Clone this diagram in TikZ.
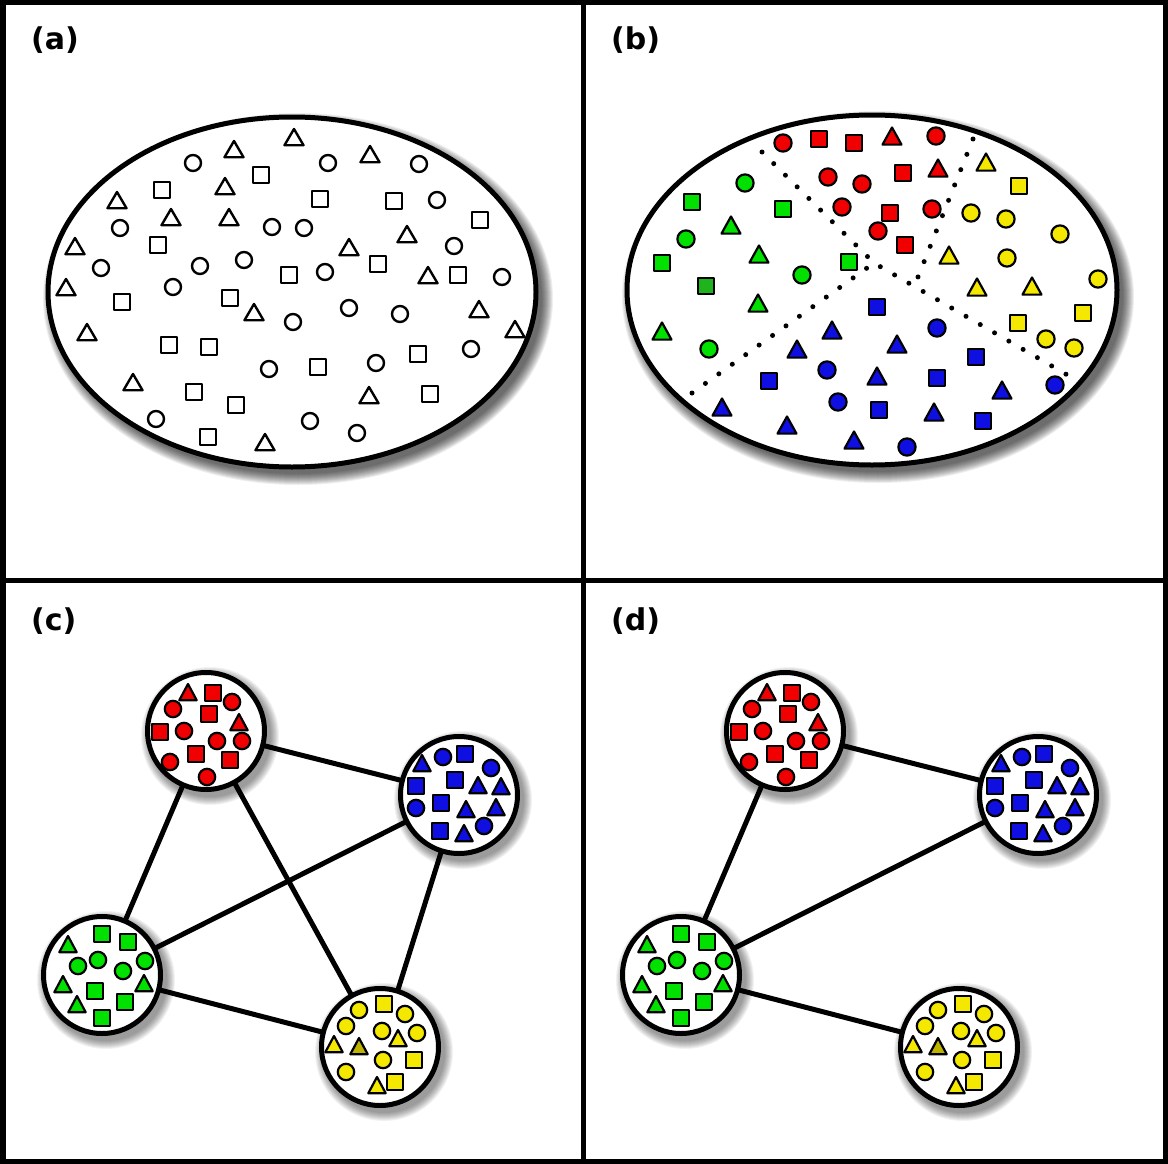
\documentclass[tikz,border=0pt]{standalone}
\usepackage{fontspec}
\newfontfamily\labfont{DejaVu Sans}
\definecolor{cR}{RGB}{240,0,0}
\definecolor{cB}{RGB}{15,15,225}
\definecolor{cG}{RGB}{0,225,0}
\definecolor{cY}{RGB}{245,232,0}
\definecolor{cYd}{RGB}{190,180,0}
\definecolor{cGd}{RGB}{30,180,30}
\pgfdeclarelayer{bgl}
\pgfdeclarelayer{shadowl}
\pgfdeclarelayer{edgel}
\pgfsetlayers{bgl,shadowl,edgel,main}
\def\shLW{2}\def\shHS{8}\def\shHR{8.5}\def\shTB{9.5}\def\shTH{9.5}
\newcommand\shSq[3]{\draw[shp,fill=#3] ({#1-\shHS},{#2-\shHS}) rectangle ({#1+\shHS},{#2+\shHS});}
\newcommand\shCi[3]{\draw[shp,fill=#3] (#1,#2) circle[radius=\shHR pt];}
\newcommand\shTr[3]{\draw[shp,fill=#3] (#1,{#2-\shTH}) -- ({#1+\shTB},{#2+0.8*\shTH}) -- ({#1-\shTB},{#2+0.8*\shTH}) -- cycle;}
\newcommand\ellshadow[4]{%
  \foreach \k in {0,...,11}{%
    \pgfmathsetmacro\rrx{#3+11-\k}\pgfmathsetmacro\rry{#4+11-\k}%
    \fill[black,opacity=0.065] ({#1+6},{#2+7}) ellipse[x radius=\rrx pt,y radius=\rry pt];}}
\newcommand\cirshadow[2]{%
  \foreach \k in {0,...,8}{%
    \pgfmathsetmacro\rrx{61+8-\k}%
    \fill[black,opacity=0.05] ({#1+4},{#2+5}) circle[radius=\rrx pt];}}
\newcommand\redset{%
  \foreach \x/\y in {188/693,239/723}{\shTr{\x}{\y}{cR}}
  \foreach \x/\y in {213/693,209/714,160/732,196/754,230/760}{\shSq{\x}{\y}{cR}}
  \foreach \x/\y in {173/709,232/702,184/731,217/741,242/741,170/762,207/777}{\shCi{\x}{\y}{cR}}}
\newcommand\blueset{%
  \foreach \x/\y in {422/764,478/786,501/787,466/810,496/808,464/834}{\shTr{\x}{\y}{cB}}
  \foreach \x/\y in {465/754,416/786,455/780,441/803,440/831}{\shSq{\x}{\y}{cB}}
  \foreach \x/\y in {443/757,491/768,416/808,484/826}{\shCi{\x}{\y}{cB}}}
\newcommand\greenset{%
  \foreach \x/\y in {68/945,63/985,144/984,77/1005}{\shTr{\x}{\y}{cG}}
  \foreach \x/\y in {102/934,128/942,95/991,125/1002,102/1018}{\shSq{\x}{\y}{cG}}
  \foreach \x/\y in {78/966,98/960,123/971,145/961}{\shCi{\x}{\y}{cG}}}
\newcommand\yellowset{%
  \foreach \x/\y in {334/1045,398/1039,377/1086}{\shTr{\x}{\y}{cY}}
  \shTr{359}{1047}{cYd}
  \foreach \x/\y in {384/1004,414/1060,395/1082}{\shSq{\x}{\y}{cY}}
  \foreach \x/\y in {359/1010,405/1014,346/1026,382/1031,417/1033,383/1060,346/1072}{\shCi{\x}{\y}{cY}}}
\begin{document}
\begin{tikzpicture}[x=1pt,y=-1pt,
  shp/.style={draw=black,line width=\shLW pt,line join=round},
  cluster/.style={circle,draw=black,line width=5pt,fill=white,minimum size=117pt,inner sep=0pt},
  link/.style={line width=5pt,draw=black},
  dotline/.style={line width=5pt,line cap=round,dash pattern=on 0pt off 16.5pt,draw=black},
  lab/.style={font=\labfont\bfseries\fontsize{30}{36}\selectfont,anchor=base west,inner sep=0pt}]
\useasboundingbox (0,0) rectangle (1168,1164);
\begin{pgfonlayer}{bgl}
\fill[white] (0,0) rectangle (1168,1164);
\end{pgfonlayer}
% frame
\draw[line width=5.5pt] (2.75,2.75) rectangle (1165.25,1161.25);
\draw[line width=5pt] (583,0) -- (583,1164);
\draw[line width=5pt] (0,580) -- (1168,580);
% labels
\node[lab] (la) at (31,50) {(a)};
\node[lab] (lb) at (611,50) {(b)};
\node[lab] (lc) at (31,630) {(c)};
\node[lab] (ld) at (611,630) {(d)};
% ---------- panel (a)
\ellshadow{292}{292}{244}{175}
\draw[line width=5pt,fill=white] (292,292) ellipse[x radius=244pt,y radius=175pt];
\def\shLW{2.4}\def\shHS{7.8}\def\shHR{8}\def\shTB{9.5}\def\shTH{9}
\foreach \x/\y in {294/138,234/150,370/155,225/187,117/201,171/218,229/218,407/235,349/248,75/247,428/276,66/288,254/313,479/310,87/333,515/330,133/383,369/396,265/443}{\shTr{\x}{\y}{white}}
\foreach \x/\y in {193/163,328/163,419/164,437/200,120/228,272/227,304/228,454/246,101/268,200/266,244/260,325/272,502/277,173/287,293/322,349/308,400/314,471/349,269/369,376/363,156/419,310/421,357/433}{\shCi{\x}{\y}{white}}
\foreach \x/\y in {162/190,261/175,320/199,394/201,480/220,158/245,378/264,289/275,458/275,122/302,230/298,169/345,209/347,318/367,418/354,194/392,236/405,430/394,208/437}{\shSq{\x}{\y}{white}}
% ---------- panel (b)
\ellshadow{872}{290}{245}{175}
\draw[line width=5pt,fill=white] (872,290) ellipse[x radius=245pt,y radius=175pt];
\draw[dotline] (762,152) -- (874,263) -- (1076,380);
\draw[dotline] (692,393) -- (874,263);
\draw[dotline] (973,139) -- (914,287);
\def\shLW{2.2}\def\shHS{8.3}\def\shHR{8.6}\def\shTB{9.5}\def\shTH{9.5}
% red
\foreach \x/\y in {892/137,938/169}{\shTr{\x}{\y}{cR}}
\foreach \x/\y in {819/139,854/143,903/173,890/213,905/245}{\shSq{\x}{\y}{cR}}
\foreach \x/\y in {783/143,936/136,828/177,862/184,842/207,932/209,878/231}{\shCi{\x}{\y}{cR}}
% green
\foreach \x/\y in {731/226,759/255,758/304,662/332}{\shTr{\x}{\y}{cG}}
\foreach \x/\y in {692/202,783/209,662/263,849/262}{\shSq{\x}{\y}{cG}}
\shSq{706}{286}{cGd}
\foreach \x/\y in {745/183,686/239,802/275,709/349}{\shCi{\x}{\y}{cG}}
% yellow
\foreach \x/\y in {986/163,949/256,977/288,1032/287}{\shTr{\x}{\y}{cY}}
\foreach \x/\y in {1019/186,1083/313,1018/323}{\shSq{\x}{\y}{cY}}
\foreach \x/\y in {971/213,1006/219,1060/234,1007/258,1098/279,1046/339,1074/348}{\shCi{\x}{\y}{cY}}
% blue
\foreach \x/\y in {832/331,797/350,877/377,722/408,787/426,854/441,897/345,1002/391,934/413}{\shTr{\x}{\y}{cB}}
\foreach \x/\y in {877/307,769/381,879/410,976/357,937/378,983/421}{\shSq{\x}{\y}{cB}}
\foreach \x/\y in {827/370,838/402,937/328,1055/385,907/447}{\shCi{\x}{\y}{cB}}
% ---------- panel (c) and (d) cluster nodes
\node[cluster] (cr) at (206,731) {};
\node[cluster] (cb) at (459,795) {};
\node[cluster] (cg) at (102,975) {};
\node[cluster] (cy) at (380,1047) {};
\node[cluster] (dr) at (785,731) {};
\node[cluster] (db) at (1038,795) {};
\node[cluster] (dg) at (681,975) {};
\node[cluster] (dy) at (959,1047) {};
\begin{pgfonlayer}{shadowl}
\cirshadow{206}{731}\cirshadow{459}{795}\cirshadow{102}{975}\cirshadow{380}{1047}
\cirshadow{785}{731}\cirshadow{1038}{795}\cirshadow{681}{975}\cirshadow{959}{1047}
\end{pgfonlayer}
\begin{pgfonlayer}{edgel}
\draw[link] (cr.center) -- (cb.center);
\draw[link] (cr.center) -- (cg.center);
\draw[link] (cr.center) -- (cy.center);
\draw[link] (cb.center) -- (cg.center);
\draw[link] (cb.center) -- (cy.center);
\draw[link] (cg.center) -- (cy.center);
\draw[link] (dr.center) -- (db.center);
\draw[link] (dr.center) -- (dg.center);
\draw[link] (db.center) -- (dg.center);
\draw[link] (dg.center) -- (dy.center);
\end{pgfonlayer}
\def\shLW{2.2}\def\shHS{7.8}\def\shHR{8.2}\def\shTB{8.7}\def\shTH{9}
\redset\blueset\greenset\yellowset
\begin{scope}[xshift=579pt]
\redset\blueset\greenset\yellowset
\end{scope}
\end{tikzpicture}
\end{document}
